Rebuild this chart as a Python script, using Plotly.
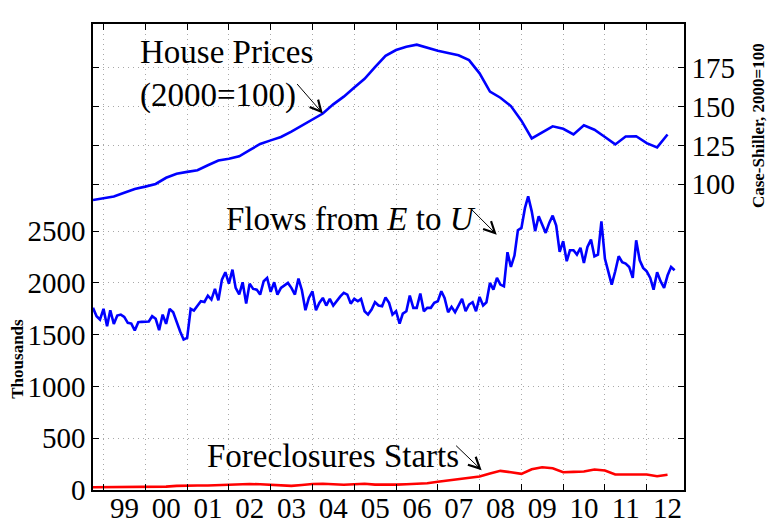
import pandas as pd
import plotly.graph_objects as go

# Monthly flows from employment to unemployment (thousands), Oct 1998 onward
flows = [
    1759, 1678, 1646, 1749, 1581, 1736, 1604, 1684, 1694, 1672, 1614, 1607,
    1540, 1620, 1624, 1625, 1627, 1678, 1653, 1543, 1694, 1604, 1749, 1716,
    1614, 1530, 1453, 1469, 1749, 1733, 1780, 1823, 1816, 1877, 1839, 1942,
    1832, 2032, 2103, 1993, 2128, 1952, 1890, 2006, 1800, 1993, 1942, 1935,
    1887, 2016, 2048, 1913, 2006, 1887, 1952, 1975, 2000, 1952, 1887, 2042,
    1929, 1736, 1855, 1919, 1736, 1807, 1855, 1781, 1846, 1781, 1832, 1870,
    1904, 1887, 1800, 1846, 1823, 1846, 1726, 1694, 1742, 1813, 1781, 1774,
    1860, 1807, 1694, 1726, 1607, 1704, 1726, 1877, 1759, 1759, 1897, 1726,
    1759, 1759, 1807, 1823, 1919, 1855, 1716, 1768, 1716, 1774, 1846, 1726,
    1791, 1813, 1726, 1865, 1781, 1813, 2000, 1935, 2048, 1984, 1967, 2296,
    2154, 2264, 2508, 2531, 2724, 2836, 2691, 2500, 2643, 2563, 2483, 2579,
    2650, 2553, 2299, 2402, 2209, 2315, 2315, 2273, 2338, 2193, 2348, 2418,
    2257, 2273, 2595, 2232, 2112, 1984, 2112, 2257, 2199, 2186, 2154, 2048,
    2411, 2218, 2145, 2112, 2048, 1935, 2103, 2016, 1952, 2071, 2154, 2122,
]

# Quarterly Case-Shiller index (2000=100), Q4 1998 onward
house_prices = [
    89.9, 91.0, 92.1, 94.5, 97.0, 98.5, 100.2, 104.2, 106.8, 108.0,
    109.1, 112.3, 115.3, 116.5, 118.0, 122.0, 126.0, 128.3, 130.5, 134.0,
    137.8, 141.5, 145.6, 151.5, 156.5, 162.4, 168.0, 175.5, 182.8, 186.5,
    188.6, 190.0, 188.0, 186.0, 184.6, 183.1, 180.0, 171.5, 159.7, 155.8,
    150.4, 141.0, 129.6, 133.5, 137.4, 135.8, 132.1, 138.0, 135.2, 130.5,
    125.7, 130.8, 131.0, 126.5, 123.8, 132.1,
]

# Quarterly foreclosure starts (thousands), Q4 1998 onward
foreclosures = [
    27, 28, 27, 30, 30, 32, 30, 33, 40, 45,
    43, 43, 48, 52, 52, 58, 55, 50, 45, 40,
    48, 58, 60, 55, 50, 55, 60, 52, 50, 52,
    55, 58, 65, 80, 92, 103, 115, 130, 160, 185,
    172, 156, 200, 220, 210, 172, 175, 178, 198, 188,
    150, 150, 152, 150, 133, 147,
]

left_ticks = [0, 500, 1000, 1500, 2000, 2500]
right_ticks = [100, 125, 150, 175]

months = pd.date_range("1998-10-01", periods=len(flows), freq="MS")
quarters = pd.date_range("1998-10-01", periods=len(house_prices), freq="3MS")

FONT = "Liberation Serif"
BLUE = "#0000ff"
RED = "#ff0000"
GRID = "#a8a8a8"

fig = go.Figure()
fig.add_trace(go.Scatter(x=months, y=flows, mode="lines",
                         line=dict(color=BLUE, width=2.6), yaxis="y"))
fig.add_trace(go.Scatter(x=quarters, y=foreclosures, mode="lines",
                         line=dict(color=RED, width=2.6), yaxis="y"))
fig.add_trace(go.Scatter(x=quarters, y=house_prices, mode="lines",
                         line=dict(color=BLUE, width=2.6), yaxis="y2"))

axis_common = dict(
    showline=True, linecolor="black", linewidth=1.6, mirror="ticks",
    ticks="inside", ticklen=6, tickwidth=1, tickcolor="black",
    showgrid=True, gridcolor=GRID, gridwidth=1, griddash="1px,4px",
    zeroline=False, automargin=False,
    tickfont=dict(family=FONT, size=29, color="black"),
)

fig.update_layout(
    width=767, height=523,
    margin=dict(l=93, r=83, t=24, b=33, autoexpand=False),
    paper_bgcolor="white", plot_bgcolor="white",
    showlegend=False,
    xaxis=dict(
        type="date", range=["1998-10-01", "2012-11-22"],
        dtick="M12", tick0="1999-01-01", ticklabelmode="period",
        tickformat="%y", ticklabelstandoff=-9, **axis_common,
    ),
    yaxis=dict(range=[0, 4500], tickvals=left_ticks, **axis_common),
    yaxis2=dict(range=[-97, 203.3], tickvals=right_ticks, overlaying="y",
                side="right", **axis_common),
)

text_font = dict(family=FONT, size=33, color="black")
label_font = dict(family=FONT, size=17, color="black")

# Series labels
fig.add_annotation(text="House Prices", xref="paper", yref="paper",
                   x=0.0761, y=0.9394, xanchor="left", yanchor="middle",
                   showarrow=False, font=text_font)
fig.add_annotation(text="(2000=100)", xref="paper", yref="paper",
                   x=0.0761, y=0.8473, xanchor="left", yanchor="middle",
                   showarrow=False, font=text_font)
fig.add_annotation(text="Flows from <i>E</i> to <i>U</i>", xref="paper", yref="paper",
                   x=0.6514, y=0.5816, xanchor="right", yanchor="middle",
                   showarrow=False, font=text_font)
fig.add_annotation(text="Foreclosures Starts", xref="paper", yref="paper",
                   x=0.1895, y=0.0739, xanchor="left", yanchor="middle",
                   showarrow=False, font=text_font)

# Pointer arrows
arrow = dict(text="", showarrow=True, arrowhead=5, arrowsize=2.2,
             arrowwidth=1, arrowcolor="black", standoff=0)
fig.add_annotation(x=quarters[22], y=house_prices[22], xref="x", yref="y2",
                   ax=-27, ay=-31, **arrow)
fig.add_annotation(x="2008-05-30", y=2466, xref="x", yref="y",
                   ax=-27, ay=-27, **arrow)
fig.add_annotation(x="2008-01-19", y=191, xref="x", yref="y",
                   ax=-27, ay=-26, **arrow)

# Axis titles
fig.add_annotation(text="<b>Thousands</b>", xref="paper", yref="paper",
                   x=-0.1269, y=0.2817, textangle=-90, showarrow=False,
                   xanchor="center", yanchor="middle", font=label_font)
fig.add_annotation(text="<b>Case-Shiller, 2000=100</b>", xref="paper", yref="paper",
                   x=1.1252, y=0.783, textangle=-90, showarrow=False,
                   xanchor="center", yanchor="middle", font=label_font)

fig.write_html("out.html")
